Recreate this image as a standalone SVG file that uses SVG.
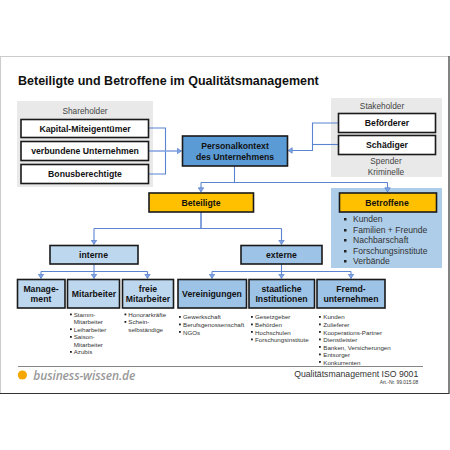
<svg xmlns="http://www.w3.org/2000/svg" width="450" height="450" viewBox="0 0 450 450">
<defs>
<marker id="a" markerWidth="7" markerHeight="7" refX="5" refY="3.500" orient="auto" markerUnits="userSpaceOnUse"><path d="M0.800 0.800L4.800 3.500L0.800 6.200Z" fill="#84a5e2" stroke="#5b84d0" stroke-width="0.800"/></marker>
</defs>
<style>
text{font-family:"Liberation Sans",Arial,sans-serif;fill:#111}
.b{font-weight:bold;text-anchor:middle;font-size:8.700px}
.n{fill:#fff;stroke:#1a1a1a;stroke-width:1.600}
.o{fill:#ffc000;stroke:#1a1a1a;stroke-width:1.600}
.l{fill:#bdd7ee;stroke:#1a1a1a;stroke-width:1.600}
.m{fill:#9dc3e6;stroke:#1a1a1a;stroke-width:1.600}
.c{fill:none;stroke:#5b84d0;stroke-width:1.100}
.s{font-size:6.200px;fill:#333}
.w{font-size:8.600px;fill:#333}
.g{font-size:8.300px;fill:#444;text-anchor:middle}
</style>
<rect width="450" height="450" fill="#fff"/>
<path d="M0.500 393V56.500H449" stroke="#ccc" stroke-width="1.100" fill="none"/>
<path d="M449 56V393.500H0" stroke="#333" stroke-width="1.200" fill="none"/>
<text x="18" y="84.500" font-size="12.500" font-weight="bold">Beteiligte und Betroffene im Qualitätsmanagement</text>
<g id="shareholder"><rect x="17" y="101" width="136" height="86" fill="#e9e9e9"/><text class="g" x="85" y="113.500">Shareholder</text></g>
<g id="stakeholder"><rect x="331" y="98" width="111" height="79" fill="#e9e9e9"/><text class="g" x="382" y="109">Stakeholder</text><text class="g" x="386" y="164">Spender</text><text class="g" x="386" y="175">Kriminelle</text></g>
<g id="betroffene-panel"><rect x="331" y="188" width="111" height="80" fill="#aecde9"/>
<text class="w" x="353" y="222">Kunden</text><text class="w" x="353" y="233">Familien + Freunde</text><text class="w" x="353" y="243.300">Nachbarschaft</text><text class="w" x="353" y="254">Forschungsinstitute</text><text class="w" x="353" y="264.300">Verbände</text>
<g fill="#222"><rect x="344" y="218" width="2.500" height="2.500"/><rect x="344" y="229" width="2.500" height="2.500"/><rect x="344" y="239" width="2.500" height="2.500"/><rect x="344" y="250" width="2.500" height="2.500"/><rect x="344" y="260" width="2.500" height="2.500"/></g></g>
<g id="connectors">
<path class="c" d="M148 128H165.500V174H148"/>
<path class="c" d="M148 151H181.500" marker-end="url(#a)" style="stroke-width:1.500;stroke:#7fa0e0"/>
<path class="c" d="M338 123H312.500V150.500H288" marker-end="url(#a)"/>
<path class="c" d="M338 144.500H312.500"/>
<path class="c" d="M234.500 166V182.500"/>
<path class="c" d="M201 182.500H387.500"/>
<path class="c" d="M201 182.500V192" marker-end="url(#a)"/>
<path class="c" d="M387.500 182.500V192" marker-end="url(#a)"/>
<path class="c" d="M201 212V228.500" style="stroke-width:1.500"/>
<path class="c" d="M94 228.500H281.500"/>
<path class="c" d="M94 228.500V244.500" marker-end="url(#a)"/>
<path class="c" d="M281.500 228.500V244.500" marker-end="url(#a)"/>
<path class="c" d="M94 264V278.500" marker-end="url(#a)"/>
<path class="c" d="M41 271.500H147.500"/>
<path class="c" d="M41 271.500V278.500" marker-end="url(#a)"/>
<path class="c" d="M147.500 271.500V278.500" marker-end="url(#a)"/>
<path class="c" d="M281.500 264V278.500" marker-end="url(#a)"/>
<path class="c" d="M212 271.500H351"/>
<path class="c" d="M212 271.500V278.500" marker-end="url(#a)"/>
<path class="c" d="M351 271.500V278.500" marker-end="url(#a)"/>
</g>
<g id="kapital"><rect class="n" x="21" y="119.500" width="127.500" height="18"/><text class="b" x="85" y="132">Kapital-Miteigentümer</text></g>
<g id="verbunden"><rect class="n" x="21" y="141.500" width="127.500" height="19"/><text class="b" x="85" y="154">verbundene Unternehmen</text></g>
<g id="bonus"><rect class="n" x="21" y="164.500" width="127.500" height="19"/><text class="b" x="85" y="177">Bonusberechtigte</text></g>
<g id="personal"><rect x="182.500" y="136" width="105" height="30" fill="#5b9bd5" stroke="#1a1a1a" stroke-width="1.600"/><text class="b" x="235" y="149">Personalkontext</text><text class="b" x="235" y="160">des Unternehmens</text></g>
<g id="befoerderer"><rect class="n" x="338.500" y="113.500" width="97" height="19"/><text class="b" x="387" y="126">Beförderer</text></g>
<g id="schaediger"><rect class="n" x="338.500" y="135.500" width="97" height="19"/><text class="b" x="387" y="148">Schädiger</text></g>
<g id="beteiligte"><rect class="o" x="149" y="193" width="104.500" height="19"/><text class="b" x="201" y="206">Beteiligte</text></g>
<g id="betroffene"><rect class="o" x="339.500" y="193" width="97" height="19"/><text class="b" x="387" y="206">Betroffene</text></g>
<g id="interne"><rect class="l" x="50" y="245.500" width="88" height="18.500"/><text class="b" x="93.500" y="258">interne</text></g>
<g id="externe"><rect class="m" x="241" y="245.500" width="81" height="18.500"/><text class="b" x="281.500" y="258">externe</text></g>
<g id="management"><rect class="l" x="17.500" y="279.500" width="47.500" height="28.500"/><text class="b" x="41" y="291.700">Manage-</text><text class="b" x="41" y="302">ment</text></g>
<g id="mitarbeiter"><rect class="l" x="67.500" y="279.500" width="52" height="28.500"/><text class="b" x="94" y="296.700">Mitarbeiter</text></g>
<g id="freie"><rect class="l" x="122.500" y="279.500" width="51" height="28.500"/><text class="b" x="148" y="291.700">freie</text><text class="b" x="148" y="302">Mitarbeiter</text></g>
<g id="vereinigungen"><rect class="m" x="178" y="279.500" width="68.500" height="28.500"/><text class="b" x="212" y="296.700">Vereinigungen</text></g>
<g id="staatlich"><rect class="m" x="249" y="279.500" width="65.500" height="28.500"/><text class="b" x="281.500" y="291.700">staatliche</text><text class="b" x="281.500" y="302.300">Institutionen</text></g>
<g id="fremd"><rect class="m" x="317" y="279.500" width="68" height="28.500"/><text class="b" x="351" y="291.700">Fremd-</text><text class="b" x="351" y="302.300">unternehmen</text></g>
<g id="lists">
<g fill="#222"><rect x="70" y="313.500" width="1.800" height="1.800"/><rect x="70" y="328.300" width="1.800" height="1.800"/><rect x="70" y="336" width="1.800" height="1.800"/><rect x="70" y="351" width="1.800" height="1.800"/><rect x="124.500" y="313.500" width="1.800" height="1.800"/><rect x="124.500" y="321" width="1.800" height="1.800"/><rect x="179" y="316" width="1.800" height="1.800"/><rect x="179" y="323.500" width="1.800" height="1.800"/><rect x="179" y="331" width="1.800" height="1.800"/><rect x="251" y="316" width="1.800" height="1.800"/><rect x="251" y="323.500" width="1.800" height="1.800"/><rect x="251" y="331" width="1.800" height="1.800"/><rect x="251" y="338.500" width="1.800" height="1.800"/><rect x="319" y="316" width="1.800" height="1.800"/><rect x="319" y="323.500" width="1.800" height="1.800"/><rect x="319" y="331" width="1.800" height="1.800"/><rect x="319" y="338.500" width="1.800" height="1.800"/><rect x="319" y="346" width="1.800" height="1.800"/><rect x="319" y="353.500" width="1.800" height="1.800"/><rect x="319" y="361" width="1.800" height="1.800"/></g>
<text class="s" x="73.700" y="316.700">Stamm-</text><text class="s" x="73.700" y="324">Mitarbeiter</text><text class="s" x="73.700" y="331.500">Leiharbeiter</text><text class="s" x="73.700" y="339">Saison-</text><text class="s" x="73.700" y="346.700">Mitarbeiter</text><text class="s" x="73.700" y="354">Azubis</text>
<text class="s" x="128.300" y="316.700">Honorarkräfte</text><text class="s" x="128.300" y="324">Schein-</text><text class="s" x="128.300" y="331.700">selbständige</text>
<text class="s" x="183" y="319.300">Gewerkschaft</text><text class="s" x="183" y="327">Berufsgenossenschaft</text><text class="s" x="183" y="334.500">NGOs</text>
<text class="s" x="255" y="319.300">Gesetzgeber</text><text class="s" x="255" y="327">Behörden</text><text class="s" x="255" y="334.500">Hochschulen</text><text class="s" x="255" y="342">Forschungsinstitute</text>
<text class="s" x="323.300" y="319.300">Kunden</text><text class="s" x="323.300" y="327">Zulieferer</text><text class="s" x="323.300" y="334.500">Kooperations-Partner</text><text class="s" x="323.300" y="342">Dienstleister</text><text class="s" x="323.300" y="349.500">Banken, Versicherungen</text><text class="s" x="323.300" y="357">Entsorger</text><text class="s" x="323.300" y="364.500">Konkurrenten</text>
</g>
<g id="footer">
<path d="M18 366.500H423" stroke="#777" stroke-width="0.900" fill="none"/>
<circle cx="22.400" cy="375" r="4.600" fill="#f7a800"/>
<text x="33.300" y="379.500" font-size="12" font-weight="600" font-style="italic" textLength="102" lengthAdjust="spacing" style="font-family:'Open Sans',sans-serif;fill:#999">business-wissen.de</text>
<text x="418.300" y="377.300" font-size="8.700" text-anchor="end" style="fill:#333">Qualitätsmanagement ISO 9001</text>
<text x="418.300" y="383.700" font-size="4.900" text-anchor="end" style="fill:#333">Art.-Nr. 99.015.08</text>
</g>
</svg>
